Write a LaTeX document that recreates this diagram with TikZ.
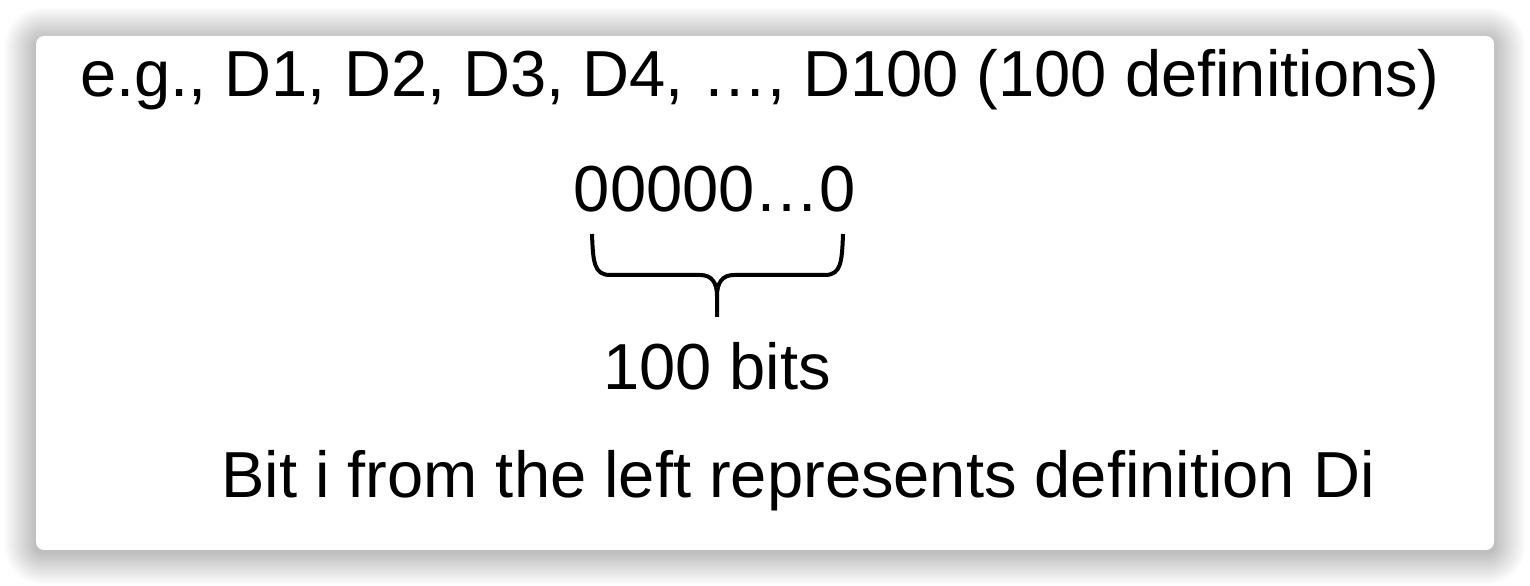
\documentclass[tikz,border=0pt]{standalone}
\usepackage{fontspec}
\setmainfont{Liberation Sans}
\begin{document}
\begin{tikzpicture}[x=0.01cm,y=-0.01cm]
		\tikzstyle{cadre}=[fill=white,rounded corners=0.08cm]
		\tikzstyle{ombre}=[fill=black,fill opacity=0.006]
		\tikzstyle{texte}=[anchor=base,inner sep=0pt,font=\fontsize{18.5}{22}\selectfont]
		\tikzstyle{accolade}=[line width=0.04cm,line join=round]
		\def\LigneA{97}
		\def\LigneB{212}
		\def\LigneC{390}
		\def\LigneD{498}
		\def\Milieu{275}
		\fill[white] (0,0) rectangle (1530,586);
		\useasboundingbox (0,0) rectangle (1530,586);
		% ombre douce autour du cadre
		\foreach \k [evaluate=\k as \rayon using 0.08+0.01*\k] in {1,...,32}
			\fill[ombre,rounded corners=\rayon cm] (36-\k,39-\k) rectangle (1494+\k,553+\k);
		\draw[cadre,draw=none] (36,36) rectangle (1494,550);
		\node[texte] (exemple) at (760,\LigneA) {e.g., D1, D2, D3, D4, …, D100 (100 definitions)};
		\node[texte] (zeros) at (715,\LigneB) {00000…0};
		\node[texte] (taille) at (717,\LigneC) {100 bits};
		\node[texte] (regle) at (798,\LigneD) {Bit i from the left represents definition Di};
		\coordinate (BraceG) at (592,234);
		\coordinate (BraceD) at (843,234);
		\coordinate (Pointe) at (717,317);
		\draw[accolade] (BraceG) .. controls (593,262) and (594,\Milieu) .. (610,\Milieu) -- (700,\Milieu) .. controls (712,\Milieu) and (717,283) .. (717,296) -- (Pointe);
		\draw[accolade] (BraceD) .. controls (842,262) and (841,\Milieu) .. (825,\Milieu) -- (734,\Milieu) .. controls (722,\Milieu) and (717,283) .. (717,296);
	\end{tikzpicture}
\end{document}
